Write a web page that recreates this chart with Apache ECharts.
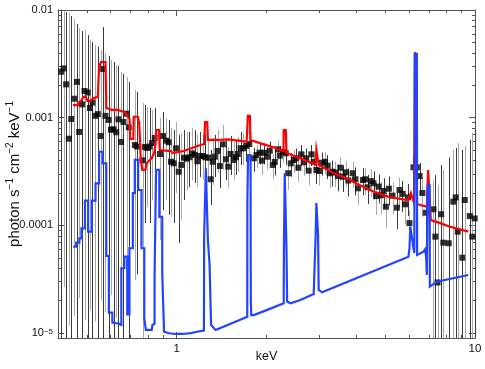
<!DOCTYPE html>
<html><head><meta charset="utf-8">
<script src="https://cdn.jsdelivr.net/npm/echarts@6/dist/echarts.min.js"></script>
<style>html,body{margin:0;padding:0;background:#fff}#c{width:485px;height:369px}</style>
</head><body><div id="c"></div>
<script>
// ---- data (energy in keV, flux in photon s^-1 cm^-2 keV^-1) ----
const energy = [
0.410,0.418,0.426,0.435,0.443,0.453,0.463,0.471,0.482,0.491,
0.503,0.512,0.522,0.533,0.544,0.556,0.567,0.577,0.591,0.602,
0.614,0.627,0.638,0.651,0.663,0.679,0.691,0.724,0.735,0.768,
0.782,0.797,0.812,0.827,0.844,0.879,0.900,0.921,0.940,0.957,
0.977,0.995,1.016,1.037,1.058,1.080,1.103,1.128,1.151,1.173,
1.194,1.222,1.247,1.276,1.299,1.320,1.343,1.371,1.396,1.428,
1.462,1.489,1.516,1.551,1.579,1.603,1.637,1.672,1.711,1.751,
1.814,1.852,1.895,1.929,1.969,2.011,2.051,2.099,2.132,2.182,
2.216,2.267,2.321,2.364,2.412,2.468,2.514,2.559,2.613,2.666,
2.716,2.770,2.828,2.879,2.939,3.008,3.072,3.144,3.199,3.256,
3.325,3.402,3.473,3.536,3.610,3.683,3.761,3.887,3.960,4.052,
4.211,4.287,4.364,4.479,4.570,4.655,4.750,4.838,4.936,5.027,
5.145,5.290,5.472,5.582,5.713,5.833,5.969,6.030,6.218,6.383,
6.523,6.665,6.841,7.253,7.366,7.490,7.698,7.834,8.166,8.461,
8.620,8.754,9.068,9.239,9.601,9.795,9.977];
const flux = [
2.67e-3,2.87e-3,2.04e-3,6.38e-4,9.72e-4,1.50e-3,2.15e-3,7.37e-4,1.33e-3,1.77e-3,
1.71e-3,1.23e-3,1.38e-3,1.04e-3,1.08e-3,6.76e-4,2.83e-3,1.04e-3,9.52e-4,7.74e-4,
7.80e-4,7.32e-4,9.66e-4,5.95e-4,9.12e-4,1.09e-3,8.14e-4,5.58e-4,5.40e-4,4.02e-4,
5.35e-4,5.23e-4,5.40e-4,5.82e-4,6.48e-4,4.60e-4,6.76e-4,6.12e-4,5.91e-4,3.90e-4,
3.77e-4,5.20e-4,3.15e-4,3.64e-4,4.25e-4,4.16e-4,4.29e-4,4.67e-4,4.50e-4,3.94e-4,
4.41e-4,4.41e-4,4.29e-4,4.25e-4,2.68e-4,3.90e-4,4.34e-4,4.91e-4,3.56e-4,5.66e-4,
4.11e-4,3.51e-4,4.60e-4,4.05e-4,4.29e-4,4.60e-4,5.20e-4,5.20e-4,5.46e-4,5.70e-4,
4.20e-4,4.50e-4,4.73e-4,3.99e-4,4.73e-4,4.34e-4,4.94e-4,3.64e-4,3.88e-4,5.09e-4,
4.44e-4,4.83e-4,4.67e-4,3.05e-4,3.77e-4,4.05e-4,4.20e-4,3.43e-4,4.57e-4,3.85e-4,
4.20e-4,3.22e-4,4.57e-4,3.90e-4,3.27e-4,3.20e-4,3.82e-4,3.90e-4,3.58e-4,3.05e-4,
3.15e-4,3.09e-4,2.87e-4,3.43e-4,2.83e-4,3.11e-4,2.61e-4,3.05e-4,2.68e-4,2.21e-4,
2.64e-4,2.68e-4,2.26e-4,2.58e-4,2.46e-4,1.87e-4,2.29e-4,1.90e-4,2.09e-4,1.49e-4,
2.19e-4,1.89e-4,1.46e-4,2.13e-4,1.96e-4,1.57e-4,1.82e-4,1.05e-4,3.46e-4,3.46e-4,
2.87e-4,2.00e-4,1.31e-4,1.41e-4,7.86e-5,2.95e-5,1.27e-4,6.91e-5,6.82e-5,1.66e-4,
1.82e-4,8.74e-5,5.01e-5,1.72e-4,1.22e-4,7.86e-5,1.16e-4];
const fluxHigh = [
1.05e-2,9.8e-3,9.58e-3,9.4e-3,8.80e-3,8.25e-3,7.41e-3,6.81e-3,6.38e-3,6.52e-3,
5.86e-3,5.26e-3,5.04e-3,4.73e-3,4.54e-3,4.25e-3,6.95e-3,3.98e-3,3.74e-3,3.43e-3,
3.29e-3,3.02e-3,3.02e-3,2.66e-3,2.55e-3,2.39e-3,2.15e-3,1.81e-3,1.73e-3,1.37e-3,
1.31e-3,1.26e-3,1.23e-3,1.18e-3,1.23e-3,9.94e-4,1.13e-3,9.94e-4,9.52e-4,8.02e-4,
7.69e-4,9.12e-4,6.92e-4,7.20e-4,7.69e-4,7.37e-4,7.37e-4,8.02e-4,7.69e-4,6.92e-4,
7.37e-4,7.20e-4,6.92e-4,6.76e-4,5.01e-4,6.48e-4,6.92e-4,7.69e-4,5.58e-4,8.55e-4,
6.21e-4,5.35e-4,6.76e-4,5.95e-4,6.21e-4,6.62e-4,7.37e-4,7.20e-4,7.53e-4,7.69e-4,
5.25e-4,5.58e-4,5.77e-4,5.03e-4,5.77e-4,5.38e-4,5.98e-4,4.59e-4,4.85e-4,6.11e-4,
5.46e-4,5.84e-4,5.70e-4,3.64e-4,4.71e-4,5.02e-4,5.17e-4,4.32e-4,5.58e-4,4.81e-4,
5.17e-4,4.09e-4,5.58e-4,4.84e-4,4.12e-4,4.06e-4,4.74e-4,4.80e-4,4.48e-4,3.87e-4,
4.00e-4,3.92e-4,3.67e-4,4.29e-4,3.62e-4,3.95e-4,3.37e-4,3.87e-4,3.46e-4,2.87e-4,
3.38e-4,3.43e-4,2.94e-4,3.33e-4,3.17e-4,2.49e-4,2.98e-4,2.53e-4,2.74e-4,2.03e-4,
2.85e-4,2.51e-4,2.00e-4,2.79e-4,2.59e-4,2.12e-4,2.42e-4,1.39e-4,4.5e-4,4.5e-4,
3.8e-4,2.8e-4,1.9e-4,2.64e-4,2.93e-4,2.37e-4,3.64e-4,3.27e-4,4.29e-4,5.01e-4,
5.23e-4,5.82e-4,5.01e-4,5.46e-4,6.21e-4,7.2e-4,7.69e-4];
// 0 = lower end of the error bar at or below zero
const fluxLow = [
0,2.68e-5,0,1.17e-5,0,1.44e-5,0,2.12e-5,0,1.32e-5,
0,1.64e-5,0,1.28e-5,0,2.03e-5,0,1.57e-5,0,2.26e-5,
0,1.38e-5,0,2.51e-5,0,1.82e-5,0,3.11e-5,3.5e-5,0,
1.05e-4,1.48e-4,1.05e-4,1.72e-4,9.6e-5,7.32e-5,1.39e-4,1.72e-4,1.25e-4,1.20e-4,
1.05e-4,2.00e-4,6.86e-5,1.12e-4,1.72e-4,2.13e-4,2.27e-4,2.64e-4,2.47e-4,2.27e-4,
2.81e-4,2.64e-4,2.64e-4,2.81e-4,1.55e-4,2.37e-4,2.81e-4,3.07e-4,2.22e-4,3.27e-4,
2.64e-4,2.22e-4,2.93e-4,2.64e-4,2.93e-4,3.13e-4,3.64e-4,3.64e-4,3.88e-4,4.05e-4,
3.15e-4,3.42e-4,3.69e-4,2.95e-4,3.69e-4,3.30e-4,3.90e-4,2.69e-4,2.91e-4,4.07e-4,
3.42e-4,3.82e-4,3.64e-4,2.13e-4,2.83e-4,3.08e-4,3.23e-4,2.54e-4,3.56e-4,2.89e-4,
3.23e-4,2.35e-4,3.56e-4,2.96e-4,2.42e-4,2.34e-4,2.90e-4,3.00e-4,2.69e-4,2.23e-4,
2.30e-4,2.26e-4,2.07e-4,2.57e-4,2.04e-4,2.27e-4,1.85e-4,2.23e-4,1.90e-4,1.55e-4,
1.90e-4,1.93e-4,1.58e-4,1.83e-4,1.75e-4,1.25e-4,1.60e-4,1.27e-4,1.44e-4,9.5e-5,
1.53e-4,1.27e-4,9.2e-5,1.47e-4,1.33e-4,1.02e-4,1.22e-4,7.86e-5,2.4e-4,2.4e-4,
1.9e-4,1.2e-4,7.0e-5,0,0,0,0,0,0,0,
0,0,0,0,0,0,0];

// total model (red)
const redE = [0.449,0.467,0.467,0.4775,0.487,0.496,0.502,0.512,0.516,0.528,0.544,0.549,0.557,0.577,0.581,0.606,0.635,0.655,0.675,0.686,0.695,0.698,0.7155,0.718,0.741,0.749,0.758,0.767,0.785,0.794,0.806,0.825,0.841,0.851,0.854,0.8725,0.877,0.955,0.970,1.055,1.175,1.236,1.245,1.266,1.272,1.371,1.481,1.637,1.715,1.724,1.732,1.759,1.768,1.910,2.110,2.279,2.284,2.321,2.333,2.599,2.923,2.939,2.969,2.992,3.351,3.82,4.031,4.560,5.20,5.969,6.095,6.180,6.252,6.285,6.30,6.383,6.397,6.462,6.895,6.937,6.964,7.072,7.110,7.64,8.25,9.497];
const redF = [1.31e-3,1.31e-3,1.37e-3,1.43e-3,1.56e-3,1.56e-3,1.43e-3,1.43e-3,1.49e-3,1.52e-3,1.56e-3,2.89e-3,3.29e-3,3.29e-3,1.23e-3,1.18e-3,1.18e-3,1.15e-3,1.10e-3,1.02e-3,9.72e-4,6.34e-4,6.34e-4,1.02e-3,1.02e-3,8.74e-4,4.05e-4,3.27e-4,3.27e-4,3.80e-4,3.96e-4,4.22e-4,4.70e-4,5.95e-4,7.69e-4,7.69e-4,5.01e-4,4.90e-4,4.70e-4,4.90e-4,5.46e-4,5.70e-4,9.12e-4,9.12e-4,6.21e-4,6.21e-4,6.30e-4,6.08e-4,5.99e-4,7.69e-4,1.04e-3,1.04e-3,6.21e-4,5.78e-4,5.31e-4,4.90e-4,7.69e-4,7.69e-4,4.70e-4,4.19e-4,3.64e-4,5.01e-4,5.01e-4,3.64e-4,3.07e-4,2.64e-4,2.42e-4,2.06e-4,1.82e-4,1.72e-4,2.00e-4,2.04e-4,1.61e-4,1.58e-4,4.07e-3,4.07e-3,1.58e-4,1.54e-4,1.49e-4,1.49e-4,3.27e-4,3.27e-4,1.12e-4,1.05e-4,9.72e-5,8.74e-5];

// line-emission component (blue)
const blueE = [0.4498,0.4603,0.4603,0.4719,0.4719,0.4793,0.4793,0.4924,0.4924,0.5047,0.5047,0.5197,0.5197,0.5343,0.5343,0.5493,0.5493,0.5647,0.5647,0.5806,0.5806,0.5923,0.5923,0.6085,0.6085,0.6412,0.6522,0.6522,0.6675,0.6675,0.6826,0.6826,0.6943,0.6943,0.7127,0.7127,0.7238,0.7238,0.7425,0.7425,0.7621,0.7621,0.7788,0.7788,0.7879,0.8248,0.8292,0.8429,0.8429,0.8527,0.8527,0.8745,0.8745,0.8944,0.8944,0.9069,0.9424,0.9923,1.0449,1.114,1.1574,1.2339,1.2359,1.2503,1.2523,1.2697,1.2722,1.2890,1.3039,1.3501,1.516,1.7242,1.7255,1.7345,1.7345,1.768,1.7719,1.7775,1.8136,2.031,2.284,2.2878,2.2969,2.3021,2.3272,2.333,2.3452,2.406,2.599,2.879,2.917,2.923,2.939,2.969,2.978,2.992,3.072,4.287,5.983,6.030,6.071,6.131,6.218,6.261,6.276,6.383,6.397,6.716,6.804,6.856,6.895,6.927,6.937,7.045,7.056,7.446,9.497];
const blueF = [6.34e-5,6.34e-5,6.91e-5,6.91e-5,7.59e-5,7.59e-5,9.40e-5,9.40e-5,1.70e-4,1.70e-4,8.74e-5,8.74e-5,1.70e-4,1.70e-4,2.46e-4,2.46e-4,4.83e-4,4.83e-4,3.77e-4,3.77e-4,5.20e-5,5.20e-5,1.55e-5,1.55e-5,1.25e-5,1.22e-5,1.19e-5,4.00e-5,4.00e-5,5.12e-5,5.12e-5,1.49e-5,1.49e-5,6.13e-5,6.13e-5,1.99e-4,1.99e-4,4.05e-4,4.05e-4,2.13e-4,2.13e-4,6.13e-5,6.13e-5,1.37e-5,1.07e-5,1.07e-5,1.19e-5,1.22e-5,3.34e-5,3.34e-5,3.27e-4,3.27e-4,1.20e-4,1.20e-4,3.59e-5,1.03e-5,9.96e-6,9.81e-6,9.81e-6,1.00e-5,1.024e-5,1.057e-5,7.97e-5,7.97e-5,3.39e-4,3.39e-4,7.32e-5,4.29e-5,1.19e-5,1.07e-5,1.22e-5,1.42e-5,1.61e-4,1.61e-4,4.50e-4,4.50e-4,2.03e-5,1.47e-5,1.47e-5,1.66e-5,1.89e-5,6.17e-5,1.61e-4,3.05e-4,3.05e-4,6.34e-5,1.96e-5,1.89e-5,2.03e-5,2.31e-5,2.36e-5,8.14e-5,1.61e-4,1.61e-4,8.14e-5,2.51e-5,2.39e-5,3.50e-5,5.12e-5,6.13e-5,9.72e-5,9.72e-5,6.13e-5,5.54e-5,3.90e-3,3.90e-3,5.31e-5,5.70e-5,6.00e-5,5.12e-5,3.46e-5,3.46e-5,2.37e-4,2.37e-4,2.70e-5,3.00e-5,3.46e-5];

// axis ticks
const X_MIN = 0.4, X_MAX = 10, Y_MIN = 9e-6, Y_MAX = 0.01;
const xMajorTicks = [1, 10];
const xMajorLabels = ['1', '10'];
const xMinorTicks = [0.5,0.6,0.7,0.8,0.9,2,3,4,5,6,7,8,9];
const yMajorTicks = [1e-5, 1e-4, 1e-3, 1e-2];
const yMajorLabels = ['10{sup|−5}', '0.0001', '0.001', '0.01'];
const yMinorTicks = [2e-5,3e-5,4e-5,5e-5,6e-5,7e-5,8e-5,9e-5,2e-4,3e-4,4e-4,5e-4,6e-4,7e-4,8e-4,9e-4,2e-3,3e-3,4e-3,5e-3,6e-3,7e-3,8e-3,9e-3];

// ---- chart ----
const L = Math.log10;
const AX = '#555';
const FONT = 'Liberation Sans, Arial, sans-serif';
function labelFor(v, ticks, labels) {
  for (let i = 0; i < ticks.length; i++) if (Math.abs(L(ticks[i]) - v) < 1e-6) return labels[i];
  return '';
}
function xAxisDef(pos, ticks, len, showLine, withLabels) {
  const a = {
    type: 'value', position: pos, min: L(X_MIN), max: L(X_MAX),
    axisLine: { show: showLine, onZero: false, lineStyle: { color: AX, width: 1 } },
    axisTick: { show: true, inside: true, length: len, customValues: ticks.map(L), lineStyle: { color: AX, width: 1 } },
    axisLabel: { show: !!withLabels, customValues: ticks.map(L), margin: 5, color: '#111', fontSize: 11.5, fontFamily: FONT,
      formatter: v => labelFor(v, xMajorTicks, xMajorLabels) },
    splitLine: { show: false }
  };
  if (withLabels) {
    a.name = 'keV'; a.nameLocation = 'middle'; a.nameGap = 12; a.nameMoveOverlap = false;
    a.nameTextStyle = { fontSize: 12.5, color: '#111', fontFamily: FONT };
  }
  return a;
}
function yAxisDef(pos, ticks, len, showLine, withLabels) {
  const a = {
    type: 'value', position: pos, min: L(Y_MIN), max: L(Y_MAX),
    axisLine: { show: showLine, onZero: false, lineStyle: { color: AX, width: 1 } },
    axisTick: { show: true, inside: true, length: len, customValues: ticks.map(L), lineStyle: { color: AX, width: 1 } },
    axisLabel: { show: !!withLabels, customValues: ticks.map(L), margin: 5, color: '#111', fontSize: 11, fontFamily: FONT,
      formatter: v => labelFor(v, yMajorTicks, yMajorLabels),
      rich: { sup: { fontSize: 8, lineHeight: 8, verticalAlign: 'top', fontFamily: FONT, color: '#111' } } },
    splitLine: { show: false }
  };
  if (withLabels) {
    a.name = 'photon s{sup|−1} cm{sup|−2} keV{sup|−1}';
    a.nameLocation = 'middle'; a.nameGap = 34; a.nameRotate = 90; a.nameMoveOverlap = false;
    a.nameTextStyle = { fontSize: 15, lineHeight: 19, color: '#111', fontFamily: FONT,
      rich: { sup: { fontSize: 10, lineHeight: 10, verticalAlign: 'top', fontFamily: FONT, color: '#111' } } };
  }
  return a;
}

const chart = echarts.init(document.getElementById('c'), null, { renderer: 'canvas' });
chart.setOption({
  animation: false,
  backgroundColor: '#fff',
  grid: { left: 58, right: 10, top: 10, bottom: 31, containLabel: false, outerBoundsMode: 'none' },
  xAxis: [
    xAxisDef('bottom', xMajorTicks, 6, true, true),
    xAxisDef('bottom', xMinorTicks, 3, false, false),
    xAxisDef('top', xMajorTicks, 6, true, false),
    xAxisDef('top', xMinorTicks, 3, false, false)
  ],
  yAxis: [
    yAxisDef('left', yMajorTicks, 6, true, true),
    yAxisDef('left', yMinorTicks, 3, false, false),
    yAxisDef('right', yMajorTicks, 6, true, false),
    yAxisDef('right', yMinorTicks, 3, false, false)
  ],
  series: [
    {
      type: 'custom', name: 'errors', xAxisIndex: 0, yAxisIndex: 0, silent: true,
      data: energy.map((e, i) => [L(e), L(Math.max(fluxLow[i], Y_MIN)), L(Math.min(fluxHigh[i], Y_MAX)), i]),
      encode: { x: 0, y: [1, 2] },
      renderItem: function (params, api) {
        const i = api.value(3);
        const p1 = api.coord([api.value(0), api.value(1)]);
        const p2 = api.coord([api.value(0), api.value(2)]);
        const x = Math.round(p1[0]) + 0.5;
        return { type: 'line', shape: { x1: x, y1: p1[1], x2: x, y2: p2[1] },
          style: { stroke: (i % 2) ? '#a8a8a8' : '#3a3a3a', lineWidth: 1 } };
      },
      z: 1
    },
    {
      type: 'scatter', name: 'data', xAxisIndex: 0, yAxisIndex: 0, silent: true,
      data: energy.map((e, i) => [L(e), L(flux[i])]),
      symbol: 'rect', symbolSize: 6, itemStyle: { color: '#000' }, z: 2
    },
    {
      type: 'line', name: 'model', xAxisIndex: 0, yAxisIndex: 0, silent: true,
      data: redE.map((e, i) => [L(e), L(redF[i])]),
      showSymbol: false, symbol: 'none', lineStyle: { color: '#ff0000', width: 2.2, join: 'miter' }, z: 3
    },
    {
      type: 'line', name: 'lines', xAxisIndex: 0, yAxisIndex: 0, silent: true,
      data: blueE.map((e, i) => [L(e), L(blueF[i])]),
      showSymbol: false, symbol: 'none', lineStyle: { color: '#2244ff', width: 2.2, join: 'miter' }, z: 4
    }
  ]
});
</script>
</body></html>
